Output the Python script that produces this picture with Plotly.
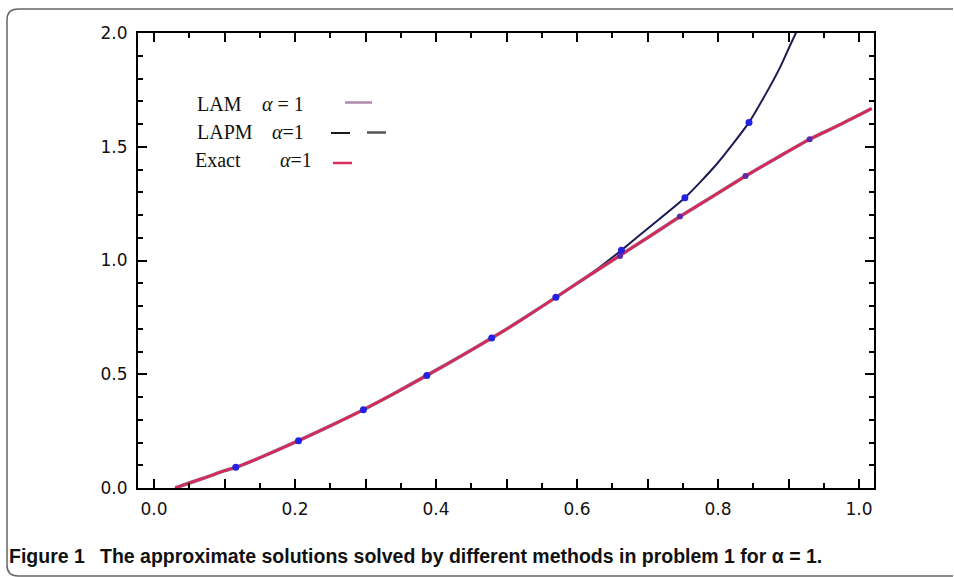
import plotly.graph_objects as go

# ---------------- data ----------------
# common part of the three solutions (they coincide up to x ~ 0.62)
common_x = [0.030, 0.050, 0.075, 0.100, 0.116, 0.150, 0.205, 0.250, 0.297, 0.340,
            0.387, 0.430, 0.479, 0.520, 0.570, 0.610]
common_y = [0.000, 0.022, 0.048, 0.076, 0.091, 0.133, 0.208, 0.273, 0.344, 0.414,
            0.495, 0.570, 0.659, 0.737, 0.838, 0.920]

# exact / LAM branch (lower curve)
exact_x = [0.650, 0.700, 0.746, 0.790, 0.839, 0.885, 0.930, 0.975, 1.018]
exact_y = [1.000, 1.100, 1.193, 1.277, 1.371, 1.454, 1.533, 1.600, 1.668]

# LAPM branch (upper, diverging curve)
lapm_x = [0.663, 0.700, 0.753, 0.798, 0.844, 0.869, 0.888, 0.902, 0.915]
lapm_y = [1.045, 1.140, 1.276, 1.423, 1.607, 1.739, 1.849, 1.944, 2.030]

# marker positions
lapm_mark_x = [0.116, 0.205, 0.297, 0.387, 0.479, 0.570, 0.663, 0.753, 0.844]
lapm_mark_y = [0.091, 0.208, 0.344, 0.495, 0.659, 0.838, 1.045, 1.276, 1.607]
lam_mark_x = [0.661, 0.746, 0.839, 0.930]
lam_mark_y = [1.020, 1.193, 1.371, 1.533]

x_ticks = [0.0, 0.1, 0.2, 0.3, 0.4, 0.5, 0.6, 0.7, 0.8, 0.9, 1.0]
x_ticktext = ["0.0", "", "0.2", "", "0.4", "", "0.6", "", "0.8", "", "1.0"]
y_ticks = [0.0, 0.5, 1.0, 1.5, 2.0]
y_ticktext = ["0.0", "0.5", "1.0", "1.5", "2.0"]

legend_labels = ["LAM", "LAPM", "Exact"]
legend_alpha = ["<i>\u03b1</i> = 1", "<i>\u03b1</i>=1", "<i>\u03b1</i>=1"]
caption = "Figure 1\u2002 The approximate solutions solved by different methods in problem 1 for \u03b1 = 1."

# ---------------- layout geometry ----------------
W, H = 954, 577
L, R, T, B = 138, 874, 33, 488


def px(x):
    return (x - L) / (R - L)


def py(y):
    return (B - y) / (B - T)


lam_x = common_x + exact_x
lam_y = common_y + exact_y
lapm_full_x = common_x + lapm_x
lapm_full_y = common_y + lapm_y
ex_x = common_x + exact_x
ex_y = common_y + exact_y

fig = go.Figure()
fig.add_trace(go.Scatter(x=lapm_full_x, y=lapm_full_y, mode="lines",
                         line=dict(color="#1c1c55", width=2, shape="spline", smoothing=0.6),
                         name="LAPM", showlegend=False))
fig.add_trace(go.Scatter(x=lam_x, y=lam_y, mode="lines",
                         line=dict(color="#a0507a", width=3.5, shape="spline", smoothing=0.6),
                         name="LAM", showlegend=False))
fig.add_trace(go.Scatter(x=ex_x, y=ex_y, mode="lines",
                         line=dict(color="#e8204a", width=1.6, shape="spline", smoothing=0.6),
                         name="Exact", showlegend=False))
fig.add_trace(go.Scatter(x=lam_mark_x, y=lam_mark_y, mode="markers",
                         marker=dict(color="#5a2aa8", size=6, symbol="circle"),
                         showlegend=False))
fig.add_trace(go.Scatter(x=lapm_mark_x, y=lapm_mark_y, mode="markers",
                         marker=dict(color="#2222e0", size=7, symbol="circle"),
                         showlegend=False))

tick_font = dict(family="DejaVu Sans", size=17, color="#111111")

fig.update_xaxes(range=[(L - 154) / 705, (R - 154) / 705],
                 tickvals=x_ticks, ticktext=x_ticktext,
                 ticks="inside", ticklen=9, tickwidth=2, tickcolor="black",
                 minor=dict(dtick=0.05, tick0=0, ticks="inside", ticklen=5, tickwidth=2, tickcolor="black"),
                 showline=True, linewidth=2, linecolor="black", mirror="allticks",
                 showgrid=False, zeroline=False, tickfont=tick_font, ticklabelstandoff=5)
fig.update_yaxes(range=[0, 2],
                 tickvals=y_ticks, ticktext=y_ticktext,
                 ticks="inside", ticklen=9, tickwidth=2, tickcolor="black",
                 minor=dict(dtick=0.1, tick0=0, ticks="inside", ticklen=5, tickwidth=2, tickcolor="black"),
                 showline=True, linewidth=2, linecolor="black", mirror="allticks",
                 showgrid=False, zeroline=False, tickfont=tick_font, ticklabelstandoff=5)

annotations = []
legend_rows_y = [104, 132, 160]
label_x = [195, 195, 193]
alpha_x = [260, 270, 278]
for i in range(3):
    annotations.append(dict(x=px(label_x[i]), y=py(legend_rows_y[i]), xref="paper", yref="paper",
                            text=legend_labels[i], showarrow=False, xanchor="left", yanchor="middle",
                            font=dict(family="Liberation Serif", size=20, color="#111111")))
    annotations.append(dict(x=px(alpha_x[i]), y=py(legend_rows_y[i]), xref="paper", yref="paper",
                            text=legend_alpha[i], showarrow=False, xanchor="left", yanchor="middle",
                            font=dict(family="Liberation Serif", size=20, color="#111111")))
annotations.append(dict(x=px(7), y=py(556), xref="paper", yref="paper", text="<b>" + caption + "</b>",
                        showarrow=False, xanchor="left", yanchor="middle",
                        font=dict(family="Liberation Sans", size=19.5, color="#111111")))

shapes = [
    # legend samples
    dict(type="line", xref="paper", yref="paper", x0=px(345), x1=px(372), y0=py(102.5), y1=py(102.5),
         line=dict(color="#b08aa8", width=2.5)),
    dict(type="line", xref="paper", yref="paper", x0=px(331), x1=px(350), y0=py(133), y1=py(133),
         line=dict(color="#1a1a1a", width=2)),
    dict(type="line", xref="paper", yref="paper", x0=px(367), x1=px(386), y0=py(132.5), y1=py(132.5),
         line=dict(color="#555555", width=2.5)),
    dict(type="line", xref="paper", yref="paper", x0=px(333), x1=px(352), y0=py(163), y1=py(163),
         line=dict(color="#d8305a", width=2.5)),
    # rounded frame around figure
    dict(type="path", xref="paper", yref="paper",
         path="M {a},{b} L {c},{b} Q {d},{b} {d},{e} L {d},{f} Q {d},{g} {c},{g} L {a},{g}".format(
             a=px(953), b=py(9), c=px(18), d=px(7), e=py(20), f=py(565), g=py(576)),
         line=dict(color="#666666", width=1.5)),
]

fig.update_layout(width=W, height=H, autosize=False,
                  margin=dict(l=L, r=W - R, t=T, b=H - B, pad=0),
                  paper_bgcolor="white", plot_bgcolor="white",
                  annotations=annotations, shapes=shapes, showlegend=False)

fig.write_html("out.html", config={"displayModeBar": False},
               post_script="document.body.style.margin='0';document.body.style.padding='0';"
                           "document.body.style.overflow='hidden';")
